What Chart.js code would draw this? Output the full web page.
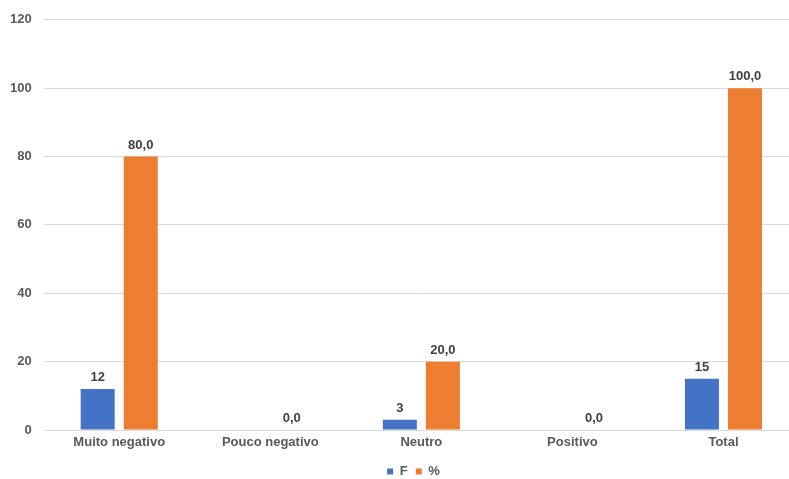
<!DOCTYPE html>
<html>
<head>
<meta charset="utf-8">
<script src="https://cdn.jsdelivr.net/npm/chart.js@4"></script>
<style>
  html, body { margin: 0; padding: 0; background: #fff; overflow: hidden; }
  #wrap { position: absolute; left: -12px; top: 0; width: 811px; height: 479px; }
</style>
</head>
<body>
<div id="wrap"><canvas id="c"></canvas></div>
<script>
const categories = ['Muito negativo', 'Pouco negativo', 'Neutro', 'Positivo', 'Total'];
const freqValues = [12, null, 3, null, 15];
const pctValues = [80.0, 0.0, 20.0, 0.0, 100.0];
const yTicks = [0, 20, 40, 60, 80, 100, 120];

const FONT = '"Liberation Sans", Arial, sans-serif';

// Draws each bar's value just above its top
const valueLabels = {
  id: 'valueLabels',
  afterDatasetsDraw(chart) {
    const ctx = chart.ctx;
    ctx.save();
    ctx.font = 'bold 13px ' + FONT;
    ctx.fillStyle = '#404040';
    ctx.textAlign = 'center';
    ctx.textBaseline = 'bottom';
    chart.data.datasets.forEach((ds, di) => {
      const meta = chart.getDatasetMeta(di);
      meta.data.forEach((bar, i) => {
        const v = ds.data[i];
        if (v === null || v === undefined) return;
        const txt = di === 0 ? String(v) : v.toFixed(1).replace('.', ',');
        ctx.fillText(txt, bar.x, bar.y - 5);
      });
    });
    ctx.restore();
  }
};

// Moves the legend a little right and down from its default slot
const legendShift = {
  id: 'legendShift',
  afterLayout(chart) {
    const lg = chart.legend;
    if (lg) {
      lg.left += 15; lg.right += 15;
      lg.top += 9; lg.bottom += 9;
    }
  }
};

new Chart(document.getElementById('c'), {
  type: 'bar',
  data: {
    labels: categories,
    datasets: [
      { label: 'F', data: freqValues, backgroundColor: '#4472c4', barPercentage: 0.79, categoryPercentage: 0.57 },
      { label: '%', data: pctValues, backgroundColor: '#ed7d31', barPercentage: 0.79, categoryPercentage: 0.57 }
    ]
  },
  options: {
    responsive: true,
    maintainAspectRatio: false,
    animation: false,
    layout: { padding: { left: 10, right: 0, top: 6, bottom: 0 } },
    plugins: {
      tooltip: { enabled: false },
      legend: {
        position: 'bottom',
        labels: {
          boxWidth: 6, boxHeight: 6, padding: 1,
          color: '#595959',
          font: { family: FONT, size: 13, weight: 'bold' },
          generateLabels(chart) {
            const items = Chart.defaults.plugins.legend.labels.generateLabels(chart);
            items.forEach((it, i) => { if (i < items.length - 1) it.text = it.text + '  '; });
            return items;
          }
        }
      }
    },
    scales: {
      x: {
        grid: { display: false, drawTicks: false },
        border: { display: false },
        ticks: { color: '#595959', font: { family: FONT, size: 13, weight: 'bold' }, padding: 5 },
        afterFit(scale) { scale.height = 25; }
      },
      y: {
        min: 0, max: 120,
        afterBuildTicks(scale) { scale.ticks = yTicks.map(v => ({ value: v })); },
        grid: { color: '#d9d9d9', drawTicks: false },
        border: { display: false },
        ticks: { color: '#595959', font: { family: FONT, size: 13, weight: 'bold' }, padding: 12 }
      }
    }
  },
  plugins: [valueLabels, legendShift]
});
</script>
</body>
</html>
